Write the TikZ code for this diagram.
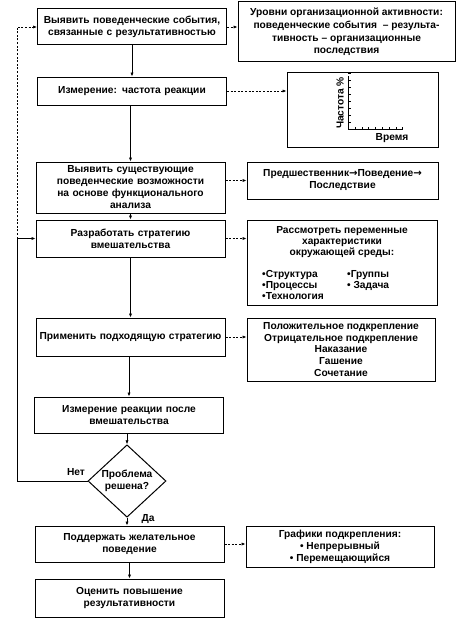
\documentclass[tikz,border=0pt]{standalone}
\usepackage{fontspec}
\setmainfont{Liberation Sans}
\newfontfamily\arrowfont{DejaVu Sans}
\usetikzlibrary{arrows.meta,shapes.geometric,positioning}

\newcommand{\thento}{{\arrowfont\bfseries →}}

\tikzset{
	box/.style={draw,line width=1pt,minimum width=189pt,text width=184pt,align=center,inner sep=1pt},
	note/.style={draw,line width=1pt,align=center,inner sep=1pt},
	flow/.style={-{Latex[length=4pt,width=3.2pt]},line width=0.7pt},
	hint/.style={flow,dash pattern=on 2pt off 1.6pt},
}

\begin{document}
\begin{tikzpicture}[x=1pt,y=-1pt,font=\fontsize{10.2}{12}\selectfont\bfseries]
\useasboundingbox (0,0) rectangle (456,626);

% MAIN COLUMN
\node[box,minimum height=36pt] (identify) at (132,27) {Выявить поведенческие события,\\связанные с результативностью};
\node[box,minimum height=28pt] (measure) at (132,91) {Измерение: частота реакции};
\node[box,minimum height=51pt] (analyze) at (130.5,187.5) {Выявить существующие\\поведенческие возможности\\на основе функционального\\анализа};
\node[box,minimum height=37pt] (develop) at (130.5,238.5) {Разработать стратегию\\вмешательства};
\node[box,minimum height=38pt] (apply) at (130.5,337) {Применить подходящую стратегию};
\node[box,minimum height=36pt] (remeasure) at (129,415) {Измерение реакции после\\вмешательства};
\node[draw,line width=1pt,diamond,minimum width=78pt,minimum height=68pt,inner sep=0pt,align=center] (solved) at (127,481) {Проблема\\решена?};
\node[box,minimum height=36pt] (maintain) at (129.5,544) {Поддержать желательное\\поведение};
\node[box,minimum height=38pt] (evaluate) at (129.5,598) {Оценить повышение\\результативности};

\draw[flow] (identify.south -| measure.north) -- (measure.north);
\draw[flow] (measure.south -| analyze.north) -- (analyze.north);
\draw[flow] (analyze.south) -- (develop.north);
\draw[flow] (develop.south) -- (apply.north);
\draw[flow] (apply.south -| remeasure.north) -- (remeasure.north);
\draw[flow] (remeasure.south -| solved.north) -- (solved.north);
\draw[flow] (solved.south) -- (solved.south |- maintain.north);
\draw[flow] (maintain.south) -- (evaluate.north);
\node (yes) at (148,519) {Да};

% LOOP BACK
\coordinate (loop) at (17,238.5);
\node (no) at (76,472) {Нет};
\draw[flow] (solved.west) -| (loop) -- (develop.west);
\draw[hint] (loop) -- (loop |- identify.west) -- (identify.west);

% RIGHT COLUMN
\node[note,minimum width=217pt,minimum height=60pt,font=\fontsize{10.2}{12.6}\selectfont\bfseries] (levels) at (346.5,32) {Уровни организационной активности:\\поведенческие события~ -- результа-\\тивность -- организационные\\последствия};
\node[draw,line width=1pt,minimum width=151pt,minimum height=75pt] (chart) at (362.5,109.5) {};
\node[note,minimum width=191pt,minimum height=37pt] (abc) at (342.5,180.5) {Предшественник\thento Поведение\thento\\Последствие};
\node[draw,line width=1pt,minimum width=190pt,minimum height=85pt] (envir) at (342,262.5) {};
\node[note,minimum width=188pt,minimum height=63pt,font=\fontsize{10.2}{11.7}\selectfont\bfseries] (types) at (341,349.5) {Положительное подкрепление\\Отрицательное подкрепление\\Наказание\\Гашение\\Сочетание};
\node[note,minimum width=188pt,minimum height=41pt] (schedules) at (340,546.5) {Графики подкрепления:\\• Непрерывный\\• Перемещающийся};

% chart
\draw[line width=0.7pt] (348,76) -- (348,129) -- (403,129);
\foreach \t in {0,...,7} {
	\draw[line width=0.5pt] (348,122-7*\t) -- (350.5,122-7*\t);
	\draw[line width=0.5pt] (355+6.8*\t,129) -- (355+6.8*\t,126.5);
}
\node[rotate=90] (freq) at (340,103) {Частота \%};
\node (time) at (392,138) {Время};

% environment
\node[align=center,font=\fontsize{10.2}{11}\selectfont\bfseries] (envtitle) at (342,242) {Рассмотреть переменные\\характеристики\\окружающей среды:};
\node[align=left,anchor=north west,inner sep=0pt,font=\fontsize{10.2}{11}\selectfont\bfseries] (envleft) at (262,270) {•Структура\\•Процессы\\•Технология};
\node[align=left,anchor=north west,inner sep=0pt,font=\fontsize{10.2}{11}\selectfont\bfseries] (envright) at (347,270) {•Группы\\• Задача};

\draw[hint] (identify.east) -- (identify.east -| levels.west);
\draw[hint] (measure.east) -- (measure.east -| chart.west);
\draw[hint] (analyze.east |- abc.west) -- (abc.west);
\draw[hint] (develop.east) -- (develop.east -| envir.west);
\draw[hint] (apply.east) -- (apply.east -| types.west);
\draw[hint] (maintain.east) -- (maintain.east -| schedules.west);

\end{tikzpicture}
\end{document}
